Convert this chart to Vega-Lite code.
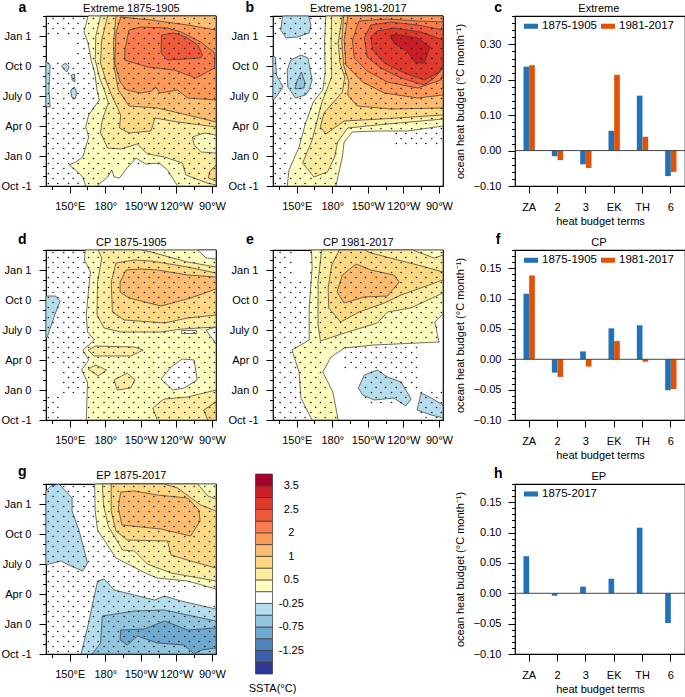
{"$schema":"https://vega.github.io/schema/vega-lite/v6.json","background":"white","padding":{"left":0,"top":0,"right":0,"bottom":0},"bounds":"flush","spacing":{"row":64,"column":0},"columns":5,"resolve":{"scale":{"fill":"independent"},"legend":{"fill":"independent"}},
"config":{"font":"Liberation Sans","view":{"stroke":"#000","strokeWidth":1.2},"axis":{"grid":false,"domain":false,"tickColor":"#000","labelColor":"#000","titleColor":"#000","labelFontSize":11,"titleFontSize":11,"titleFontWeight":"normal","labelBound":false,"labelFlush":false,"zindex":1},"legend":{"labelFontSize":11.5,"labelColor":"#000"}},
"datasets":{
"poly":[
{"p":"a","k":1,"c":"0.25","x":[165.5,162,165.5,168,171,173,175,166,163.5,166,163.5,161,155,149.5,155,161,163.5,173,182,185.5,187.5,192,197,206,214,225.5,232.5,241,273.4,273.4],"y":[17,15.4,14.3,12.6,11.4,9.6,8.6,7.1,5.9,4.9,3.9,2.9,2.4,2.1,1.6,0.9,0,0,0.9,1.6,0.9,0.8,1.6,2.8,2.2,2.3,1.6,0,0,17]},
{"p":"a","k":2,"c":"0.5","x":[176,172,171.5,175,180,182.5,177.5,176,182,193,207,215.5,230,245,248,266,273.4,273.4],"y":[17,15,12.6,10.9,9.3,8.3,6.6,5.3,3.8,3.7,4.2,3.2,2.9,2.3,1.1,0.3,0.1,17]},
{"p":"a","k":3,"c":"0.75","x":[182,177,176,181,186,190,193,192,200,218.5,222,241,261,273.4,273.4],"y":[17,14.6,12.3,10.4,8.9,7.9,7.1,5.8,5.3,5.5,6.8,6.4,6.1,5.9,17]},
{"p":"a","k":4,"c":"1","x":[189,187,187.5,191,200,224,249.5,273.4,273.4],"y":[17,14.3,11.9,9.6,8,7.8,7.1,6.4,17]},
{"p":"a","k":5,"c":"1.5","x":[193,189,188,192.5,198,210,219,222.5,226,241,249.5,273.4,273.4,249.5,218.5],"y":[16.9,15.3,12.3,10.4,9.6,9.3,9.5,9.9,9.3,9.6,8.8,8.6,15.6,16.1,16.6]},
{"p":"a","k":6,"c":"2","x":[200,196.5,196.5,215.5,238,256.5,272,272.5,260.5,244,232.5,210],"y":[15.6,13.6,12.6,11.9,11.6,10.8,11.8,13.3,14.4,15.4,15.8,15.9]},
{"p":"a","k":7,"c":"2.25","x":[227.5,227,232.5,260.5,262,258,248,238],"y":[15.1,13.3,12.6,12.8,13.1,14.1,14.9,15.3]},
{"p":"a","k":8,"c":"0.25","x":[253.5,263.5,273.4,273.4,261,255],"y":[4.9,5.3,5.1,3.3,3.4,4.1]},
{"p":"a","k":9,"c":"0.75","x":[273.4,268,267,273.4],"y":[2.1,1.4,0.8,0.5]},
{"p":"a","k":10,"c":"-0.5","x":[130,133.5,132.5,133.5,130],"y":[12.5,12.1,9.6,7.9,7.9]},
{"p":"a","k":11,"c":"-0.5","x":[143,146.5,149.5,147.5],"y":[12,12.3,11.9,11.4]},
{"p":"a","k":12,"c":"-0.5","x":[151.5,154,154.5,152],"y":[11.1,11.2,10.4,10.6]},
{"p":"a","k":13,"c":"-0.5","x":[151,154,156,154.5,151.5],"y":[9.6,9.9,9.3,8.7,8.9]},
{"p":"b","k":20,"c":"0.25","x":[174.5,173.5,174,172,164,157.5,152,143.5,142,183,188.5,190,197,218,243.5,273.4,273.4],"y":[17,14.3,11.3,9.6,8.4,6.3,3.9,1.6,0,0,2.9,4.4,5.4,5.5,5.5,6,17]},
{"p":"b","k":21,"c":"0.5","x":[179.5,179,179.5,171,163,155,164.5,176,182,184.5,193,218,273.4,273.4],"y":[17,14.3,10.9,8.3,4.6,2.3,0.9,1.4,2.9,4.4,5.8,6.1,6.7,17]},
{"p":"b","k":22,"c":"0.75","x":[188.5,185,186.5,190.5,188.5,173,170,174.5,190,221,273.4,273.4],"y":[17,14.3,12.3,10.9,9.4,7.3,5.9,5.2,6.5,6.7,7.1,17]},
{"p":"b","k":23,"c":"1","x":[189.5,188,189.5,194,193,201,229.5,273.4,273.4],"y":[17,14.3,12.1,10.4,9.1,8,7.7,7.8,17]},
{"p":"b","k":24,"c":"1.5","x":[193,193,190,191.5,205.5,224,252,273.4,273.4],"y":[17,16.8,14.6,12.1,10.4,9.3,8.8,9.1,17]},
{"p":"b","k":25,"c":"2","x":[202.5,197,198.5,209.5,226.5,252,271.5,273.4,273.4,252,226.5],"y":[16.5,14.6,12.8,11.5,10.4,9.8,10.6,11.1,16.4,16.5,16.7]},
{"p":"b","k":26,"c":"2.25","x":[212.5,207,209.5,221,238,257.5,266,273.4,273.4,252,229.5],"y":[16.1,14.8,12.9,11.8,10.8,10.1,10.8,11.8,15.6,16.1,16.4]},
{"p":"b","k":27,"c":"2.5","x":[218,212.5,214,224,241,257.5,270.5,273.4,273.4,255,232],"y":[15.5,14.9,13.6,12.3,11.3,10.6,11.4,12.1,14.6,15.4,15.8]},
{"p":"b","k":28,"c":"3","x":[229,232,243.5,250.5,257.5,262.5,252,238],"y":[15.1,14.3,13.4,12.3,12.3,13.9,14.8,15.1]},
{"p":"b","k":29,"c":"-0.5","x":[138,136.5,141,150.5,160.5,162,160],"y":[17,15.6,14.8,14.9,15.3,16.1,17]},
{"p":"b","k":30,"c":"-0.5","x":[130,132,133,138.5,132,130],"y":[13,12.9,11.1,9.9,8.8,8.6]},
{"p":"b","k":31,"c":"-0.5","x":[153.5,159.5,163,160.5,157.5,149,142.5,142,145],"y":[13.1,12.8,10.6,9.6,9.1,8.8,9.9,11.6,12.6]},
{"p":"b","k":32,"c":"-0.75","x":[154,157,156,148.5,150.5],"y":[11.4,10.3,9.8,9.7,10.6]},
{"p":"d","k":40,"c":"0.25","x":[163,162.5,167.5,165.5,164,165,171,161,166,160,165,164,273.4,273.4,265,273.4,273.4],"y":[17,16,14.8,12.5,10.5,8.8,8,7,6,5,3.8,0,0,7.6,9,9.3,17]},
{"p":"d","k":41,"c":"-0.25","x":[227,235.5,245,255,257.5,246.5,237],"y":[4.1,5.3,6.1,6,4,3.2,3]},
{"p":"d","k":42,"c":"-0.25","x":[258,265,273.4,273.4],"y":[17,16.2,16.1,17]},
{"p":"d","k":43,"c":"0.5","x":[174,177,173.5,173,179,193,227,245,273.4,273.4,249.5,218.5,210],"y":[17,16.2,13.8,10.5,9.2,8.8,8.8,9.1,9.3,15.3,15.8,16.8,17]},
{"p":"d","k":44,"c":"-0.25","x":[244.5,257,257,244.5],"y":[8.95,8.95,8.65,8.65]},
{"p":"d","k":45,"c":"0.75","x":[204.5,189,185,186,196,230,249.5,273.4,273.4,249.5,218.5],"y":[16,15.7,13.8,10.8,10,9.7,10.2,10.5,14.7,15.3,15.9]},
{"p":"d","k":46,"c":"1","x":[197.5,192.5,192.5,200,227,252,273.4,273.4,249.5,224,210],"y":[15,13.8,12.8,12.2,11.4,12.2,13.1,14.3,14.5,15,15.1]},
{"p":"d","k":47,"c":"0.5","x":[165.5,172,204.5,212,201.5,170.5],"y":[7,7.4,7.3,7,6.4,6.4]},
{"p":"d","k":48,"c":"0.5","x":[165.5,172,181,174],"y":[5.1,5.5,5,4.4]},
{"p":"d","k":49,"c":"0.5","x":[187.5,198.5,205,201.5,190],"y":[4,4.7,4,3.2,3]},
{"p":"d","k":50,"c":"0.5","x":[220,229.5,249.5,273.4,273.4,224],"y":[1.2,2.1,2.3,3,0,0]},
{"p":"d","k":51,"c":"0.75","x":[263,273.4,273.4,266.5],"y":[1,1.8,0,0]},
{"p":"d","k":52,"c":"-0.5","x":[130,138,142,138,131,130],"y":[12.4,12.4,11.9,10.7,8.3,8.2]},
{"p":"e","k":60,"c":"0.25","x":[162.5,163,160.5,160.5,160.5,146,152,153.5,163,185,180.5,172,179,190,215,270,266.5,273.4,273.4],"y":[17,15.2,11.2,9.5,8,7,4.8,2.2,0,0,2.8,4.8,6.3,7.2,7.5,7.8,9.8,10.6,17]},
{"p":"e","k":61,"c":"0.5","x":[171,168,168,170,193,218,226.5,246,273.4,273.4,266,252,248],"y":[17,13.8,9.5,7.9,8.8,9.7,10.8,11.2,12.7,16.5,16.2,16.8,17]},
{"p":"e","k":62,"c":"0.75","x":[186,179.5,176.5,177,187,202.5,224,238,273.4,273.4,252,212.5,207],"y":[17,15.5,13.2,11.2,9.8,10.8,11.7,12.5,14,14.8,15.5,16.7,17]},
{"p":"e","k":63,"c":"1","x":[200,188.5,184,190,207,226.5,236.5,232,212.5],"y":[15.6,14.5,12.8,11.7,12.3,12.4,13.8,14.5,15]},
{"p":"e","k":64,"c":"-0.5","x":[218,226.5,238,246.5,242,232,215.5,205.5,202,207],"y":[5,4.3,3.8,2.1,1.4,2.2,2,2.5,3.2,4.5]},
{"p":"e","k":65,"c":"-0.5","x":[255,263.5,273.4,273.4,263.5,251.5],"y":[2.7,2.2,1.5,0.2,0.5,1]},
{"p":"g","k":70,"c":"0.25","x":[171,171.5,173.5,189,215.5,224,249.5,273.4,273.4],"y":[17,14.3,12.4,9.6,8,7.6,7.3,6.5,17]},
{"p":"g","k":71,"c":"0.5","x":[177.5,178.5,182.5,194.5,204.5,215.5,235.5,273.4,273.4,266.5,258],"y":[17,14.9,12.8,10.4,10.3,9,8.1,7.3,15.5,15.8,17]},
{"p":"g","k":72,"c":"0.75","x":[185,185,189,198.5,232.5,235.5,252,273.4,273.4,260.5,241,229.5],"y":[17,14.3,12.3,11.4,11.3,9.9,9.3,8.6,14.3,14.9,16.6,17]},
{"p":"g","k":73,"c":"1","x":[193,191,194,227,252,260,259,249.5,224,204.5],"y":[16.2,14.6,12.9,12.5,11.8,13.3,14.4,15.6,15.9,16.3]},
{"p":"g","k":74,"c":"-0.5","x":[130,134,141,152,152,158,165,161,151,142.5,130],"y":[16.3,16.8,17,15.6,14.3,12.3,9.1,8.3,8.8,9.3,8.9]},
{"p":"g","k":75,"c":"-0.5","x":[159.5,165.5,173.5,179,187.5,204.5,221.5,230,244,273.4,273.4],"y":[0,2.9,7.3,7.5,6.4,5.9,5.4,5.8,5.3,4.5,0]},
{"p":"g","k":76,"c":"-0.75","x":[169,176,177.5,204.5,230,249.5,273.4,273.4],"y":[0,1.1,3.8,4.3,4.4,3.9,3.3,0]},
{"p":"g","k":77,"c":"-1","x":[193,192.5,198.5,207,224,246.5,255,261,273.4,273.4,249.5,230,213],"y":[2.4,1.4,0.9,1.8,1.1,0.9,0,0.4,0.6,2.6,2.4,3.3,2.5]}
],
"stip":[
{"y":0.25,"x":[132,140,149,157,166,174,183,191,200,208,217,225,234,242,251,259,268]},{"y":0.75,"x":[136,145,153,162,170,179,187,196,204,213,221,230,238,247,255,264,272]},
{"y":1.25,"x":[132,140,149,157,166,174,183,191,200,208,217,225,234,242,251,259,268]},{"y":1.75,"x":[136,145,153,162,170,179,187,196,204,213,221,230,238,247,255,264,272]},
{"y":2.25,"x":[132,140,149,157,166,174,183,191,200,208,217,225,234,242,251,259,268]},{"y":2.75,"x":[136,145,153,162,170,179,187,196,204,213,221,230,238,247,255,264,272]},
{"y":3.25,"x":[132,140,149,157,166,174,183,191,200,208,217,225,234,242,251,259,268]},{"y":3.75,"x":[136,145,153,162,170,179,187,196,204,213,221,230,238,247,255,264,272]},
{"y":4.25,"x":[132,140,149,157,166,174,183,191,200,208,217,225,234,242,251,259,268]},{"y":4.75,"x":[136,145,153,162,170,179,187,196,204,213,221,230,238,247,255,264,272]},
{"y":5.25,"x":[132,140,149,157,166,174,183,191,200,208,217,225,234,242,251,259,268]},{"y":5.75,"x":[136,145,153,162,170,179,187,196,204,213,221,230,238,247,255,264,272]},
{"y":6.25,"x":[132,140,149,157,166,174,183,191,200,208,217,225,234,242,251,259,268]},{"y":6.75,"x":[136,145,153,162,170,179,187,196,204,213,221,230,238,247,255,264,272]},
{"y":7.25,"x":[132,140,149,157,166,174,183,191,200,208,217,225,234,242,251,259,268]},{"y":7.75,"x":[136,145,153,162,170,179,187,196,204,213,221,230,238,247,255,264,272]},
{"y":8.25,"x":[132,140,149,157,166,174,183,191,200,208,217,225,234,242,251,259,268]},{"y":8.75,"x":[136,145,153,162,170,179,187,196,204,213,221,230,238,247,255,264,272]},
{"y":9.25,"x":[132,140,149,157,166,174,183,191,200,208,217,225,234,242,251,259,268]},{"y":9.75,"x":[136,145,153,162,170,179,187,196,204,213,221,230,238,247,255,264,272]},
{"y":10.25,"x":[132,140,149,157,166,174,183,191,200,208,217,225,234,242,251,259,268]},{"y":10.75,"x":[136,145,153,162,170,179,187,196,204,213,221,230,238,247,255,264,272]},
{"y":11.25,"x":[132,140,149,157,166,174,183,191,200,208,217,225,234,242,251,259,268]},{"y":11.75,"x":[136,145,153,162,170,179,187,196,204,213,221,230,238,247,255,264,272]},
{"y":12.25,"x":[132,140,149,157,166,174,183,191,200,208,217,225,234,242,251,259,268]},{"y":12.75,"x":[136,145,153,162,170,179,187,196,204,213,221,230,238,247,255,264,272]},
{"y":13.25,"x":[132,140,149,157,166,174,183,191,200,208,217,225,234,242,251,259,268]},{"y":13.75,"x":[136,145,153,162,170,179,187,196,204,213,221,230,238,247,255,264,272]},
{"y":14.25,"x":[132,140,149,157,166,174,183,191,200,208,217,225,234,242,251,259,268]},{"y":14.75,"x":[136,145,153,162,170,179,187,196,204,213,221,230,238,247,255,264,272]},
{"y":15.25,"x":[132,140,149,157,166,174,183,191,200,208,217,225,234,242,251,259,268]},{"y":15.75,"x":[136,145,153,162,170,179,187,196,204,213,221,230,238,247,255,264,272]},
{"y":16.25,"x":[132,140,149,157,166,174,183,191,200,208,217,225,234,242,251,259,268]},{"y":16.75,"x":[136,145,153,162,170,179,187,196,204,213,221,230,238,247,255,264,272]}
],
"cbar":[{"u":0,"v":1,"c":"-1.75"},{"u":1,"v":2,"c":"-1.5"},{"u":2,"v":3,"c":"-1.25"},{"u":3,"v":4,"c":"-1"},{"u":4,"v":5,"c":"-0.75"},{"u":5,"v":6,"c":"-0.5"},{"u":6,"v":7,"c":"-0.25"},{"u":7,"v":8,"c":"0.25"},{"u":8,"v":9,"c":"0.5"},{"u":9,"v":10,"c":"0.75"},{"u":10,"v":11,"c":"1"},{"u":11,"v":12,"c":"1.5"},{"u":12,"v":13,"c":"2"},{"u":13,"v":14,"c":"2.25"},{"u":14,"v":15,"c":"2.5"},{"u":15,"v":16,"c":"3"},{"u":16,"v":17,"c":"3.5"}],
"bars":[
{"p":"c","t":"ZA","s":"a","n":"1875-1905","v":0.237},{"p":"c","t":"ZA","s":"b","n":"1981-2017","v":0.241},{"p":"c","t":"2","s":"a","n":"1875-1905","v":-0.016},{"p":"c","t":"2","s":"b","n":"1981-2017","v":-0.027},{"p":"c","t":"3","s":"a","n":"1875-1905","v":-0.039},{"p":"c","t":"3","s":"b","n":"1981-2017","v":-0.049},{"p":"c","t":"EK","s":"a","n":"1875-1905","v":0.056},{"p":"c","t":"EK","s":"b","n":"1981-2017","v":0.214},{"p":"c","t":"TH","s":"a","n":"1875-1905","v":0.155},{"p":"c","t":"TH","s":"b","n":"1981-2017","v":0.039},{"p":"c","t":"6","s":"a","n":"1875-1905","v":-0.072},{"p":"c","t":"6","s":"b","n":"1981-2017","v":-0.06},
{"p":"f","t":"ZA","s":"a","n":"1875-1905","v":0.108},{"p":"f","t":"ZA","s":"b","n":"1981-2017","v":0.138},{"p":"f","t":"2","s":"a","n":"1875-1905","v":-0.022},{"p":"f","t":"2","s":"b","n":"1981-2017","v":-0.029},{"p":"f","t":"3","s":"a","n":"1875-1905","v":0.013},{"p":"f","t":"3","s":"b","n":"1981-2017","v":-0.012},{"p":"f","t":"EK","s":"a","n":"1875-1905","v":0.051},{"p":"f","t":"EK","s":"b","n":"1981-2017","v":0.03},{"p":"f","t":"TH","s":"a","n":"1875-1905","v":0.056},{"p":"f","t":"TH","s":"b","n":"1981-2017","v":-0.004},{"p":"f","t":"6","s":"a","n":"1875-1905","v":-0.051},{"p":"f","t":"6","s":"b","n":"1981-2017","v":-0.049},
{"p":"h","t":"ZA","s":"a","n":"1875-2017","v":0.061},{"p":"h","t":"2","s":"a","n":"1875-2017","v":-0.004},{"p":"h","t":"3","s":"a","n":"1875-2017","v":0.011},{"p":"h","t":"EK","s":"a","n":"1875-2017","v":0.024},{"p":"h","t":"TH","s":"a","n":"1875-2017","v":0.108},{"p":"h","t":"6","s":"a","n":"1875-2017","v":-0.049}
]},
"concat":[
{"width":170,"height":170,"layer":[
{"data":{"name":"poly"},"transform":[{"filter":"datum.p=='a'"},{"flatten":["x","y"]},{"window":[{"op":"row_number","as":"i"}],"groupby":["k"]}],"mark":{"type":"line","stroke":"#333","strokeWidth":0.7,"interpolate":"linear-closed"},"encoding":{"x":{"field":"x","type":"quantitative","scale":{"domain":[130,273.4],"nice":false,"zero":false},"axis":{"title":null,"tickCount":40,"values":[135,150,165,180,195,210,225,240,255,270],"labelOverlap":false,"labelPadding":7,"labelExpr":"datum.value==150?'150°E':datum.value==180?'180°':datum.value==210?'150°W':datum.value==240?'120°W':datum.value==270?'90°W':''","tickSize":{"condition":{"test":"datum.value%30==0","value":7},"value":3.5}}},"y":{"field":"y","type":"quantitative","scale":{"domain":[0,17],"nice":false,"zero":false},"axis":{"title":null,"tickCount":40,"values":[0,1,2,3,4,5,6,7,8,9,10,11,12,13,14,15,16,17],"labelOverlap":false,"labelPadding":8,"labelExpr":"datum.value==0?'Oct -1':datum.value==3?'Jan 0':datum.value==6?'Apr 0':datum.value==9?'July 0':datum.value==12?'Oct 0':datum.value==15?'Jan 1':''","tickSize":{"condition":{"test":"datum.value%3==0","value":7},"value":3.5}}},"fill":{"field":"c","type":"nominal","legend":null,"scale":{"domain":["-1.75","-1.5","-1.25","-1","-0.75","-0.5","-0.25","0.25","0.5","0.75","1","1.5","2","2.25","2.5","3","3.5"],"range":["#30389a","#3b60a9","#5085be","#6fa9cf","#92c5de","#b5dded","#ffffff","#ffffbf","#feeda0","#fed882","#fdbc6f","#fd9a57","#fb7c4c","#ee5a3b","#e03a2e","#c91e27","#a8002c"]}},"detail":{"field":"k"},"order":{"field":"i","type":"quantitative"}}},
{"data":{"name":"stip"},"transform":[{"flatten":["x"]},{"filter":"!(datum.x<155&&datum.y>12.7&&datum.y<14.8)&&!(datum.x>175&&datum.x<240&&datum.y<1)&&!(datum.x>185&&datum.x<232&&datum.y<2.1)"}],"mark":{"type":"point","filled":true,"size":2.5,"color":"#111","opacity":1},"encoding":{"x":{"field":"x","type":"quantitative"},"y":{"field":"y","type":"quantitative"}}},
{"data":{"values":[{"l":"a","x":110,"y":17.8}]},"mark":{"type":"text","fontSize":14,"fontWeight":"bold","color":"#000"},"encoding":{"x":{"field":"x","type":"quantitative"},"y":{"field":"y","type":"quantitative"},"text":{"field":"l"}}},
{"data":{"values":[{"l":"Extreme 1875-1905","x":202,"y":17.73}]},"mark":{"type":"text","fontSize":11,"color":"#000"},"encoding":{"x":{"field":"x","type":"quantitative"},"y":{"field":"y","type":"quantitative"},"text":{"field":"l"}}}
]},
{"width":56.8,"height":170,"view":{"stroke":null},"data":{"values":[{"e":0}]},"mark":{"type":"point","opacity":0},"encoding":{}},
{"width":170,"height":170,"layer":[
{"data":{"name":"poly"},"transform":[{"filter":"datum.p=='b'"},{"flatten":["x","y"]},{"window":[{"op":"row_number","as":"i"}],"groupby":["k"]}],"mark":{"type":"line","stroke":"#333","strokeWidth":0.7,"interpolate":"linear-closed"},"encoding":{"x":{"field":"x","type":"quantitative","scale":{"domain":[130,273.4],"nice":false,"zero":false},"axis":{"title":null,"tickCount":40,"values":[135,150,165,180,195,210,225,240,255,270],"labelOverlap":false,"labelPadding":7,"labelExpr":"datum.value==150?'150°E':datum.value==180?'180°':datum.value==210?'150°W':datum.value==240?'120°W':datum.value==270?'90°W':''","tickSize":{"condition":{"test":"datum.value%30==0","value":7},"value":3.5}}},"y":{"field":"y","type":"quantitative","scale":{"domain":[0,17],"nice":false,"zero":false},"axis":{"title":null,"tickCount":40,"values":[0,1,2,3,4,5,6,7,8,9,10,11,12,13,14,15,16,17],"labelOverlap":false,"labelPadding":8,"labelExpr":"datum.value==0?'Oct -1':datum.value==3?'Jan 0':datum.value==6?'Apr 0':datum.value==9?'July 0':datum.value==12?'Oct 0':datum.value==15?'Jan 1':''","tickSize":{"condition":{"test":"datum.value%3==0","value":7},"value":3.5}}},"fill":{"field":"c","type":"nominal","legend":null,"scale":{"domain":["-1.75","-1.5","-1.25","-1","-0.75","-0.5","-0.25","0.25","0.5","0.75","1","1.5","2","2.25","2.5","3","3.5"],"range":["#30389a","#3b60a9","#5085be","#6fa9cf","#92c5de","#b5dded","#ffffff","#ffffbf","#feeda0","#fed882","#fdbc6f","#fd9a57","#fb7c4c","#ee5a3b","#e03a2e","#c91e27","#a8002c"]}},"detail":{"field":"k"},"order":{"field":"i","type":"quantitative"}}},
{"data":{"name":"stip"},"transform":[{"flatten":["x"]},{"filter":"!(datum.x<150&&datum.y>13&&datum.y<15)&&!(datum.x>186&&datum.y<5.3&&!(datum.x>232&&datum.y>3.9))&&!(datum.x>143&&datum.x<150&&datum.y>1.6&&datum.y<4.5)"}],"mark":{"type":"point","filled":true,"size":2.5,"color":"#111","opacity":1},"encoding":{"x":{"field":"x","type":"quantitative"},"y":{"field":"y","type":"quantitative"}}},
{"data":{"values":[{"l":"b","x":110.5,"y":17.8}]},"mark":{"type":"text","fontSize":14,"fontWeight":"bold","color":"#000"},"encoding":{"x":{"field":"x","type":"quantitative"},"y":{"field":"y","type":"quantitative"},"text":{"field":"l"}}},
{"data":{"values":[{"l":"Extreme 1981-2017","x":202,"y":17.73}]},"mark":{"type":"text","fontSize":11,"color":"#000"},"encoding":{"x":{"field":"x","type":"quantitative"},"y":{"field":"y","type":"quantitative"},"text":{"field":"l"}}}
]},
{"width":71.7,"height":170,"view":{"stroke":null},"data":{"values":[{"e":0}]},"mark":{"type":"point","opacity":0},"encoding":{}},
{"width":170,"height":170,"layer":[
{"data":{"name":"bars"},"transform":[{"filter":"datum.p=='c'"}],"mark":{"type":"bar"},"encoding":{"x":{"field":"t","type":"nominal","sort":null,"scale":{"domain":["ZA","2","3","EK","TH","6"],"paddingInner":0.6,"paddingOuter":0.3},"axis":{"title":"heat budget terms","labelAngle":0,"labelOverlap":false,"labelPadding":8,"tickSize":7,"titlePadding":3}},"xOffset":{"field":"s","type":"nominal","scale":{"domain":["a","b"],"paddingInner":0,"paddingOuter":0}},"y":{"field":"v","type":"quantitative","scale":{"domain":[-0.1,0.38],"nice":false,"zero":false},"axis":{"title":"ocean heat budget (°C month⁻¹)","tickCount":40,"titlePadding":8,"labelOverlap":false,"labelPadding":7,"values":[-0.1,-0.08,-0.06,-0.04,-0.02,0,0.02,0.04,0.06,0.08,0.1,0.12,0.14,0.16,0.18,0.2,0.22,0.24,0.26,0.28,0.3,0.32,0.34,0.36,0.38],"labelExpr":"abs(datum.value*10-round(datum.value*10))<0.001?format(datum.value,'.2f'):''","tickSize":{"condition":{"test":"abs(datum.value*10-round(datum.value*10))<0.001","value":7},"value":3.5}}},"fill":{"field":"n","type":"nominal","scale":{"domain":["1875-1905","1981-2017"],"range":["#2272b8","#e05206"]},"legend":{"title":null,"orient":"none","legendX":9,"legendY":3,"direction":"horizontal","symbolType":"M-1,-0.36H1V0.36H-1Z","symbolSize":196,"symbolStrokeWidth":0,"labelOffset":4,"columnPadding":4}}}},
{"data":{"values":[{"z":0}]},"mark":{"type":"rule","color":"#444","strokeWidth":1},"encoding":{"y":{"field":"z","type":"quantitative"}}},
{"data":{"values":[{"l":"c","x":"ZA","y":0.402}]},"mark":{"type":"text","fontSize":14,"fontWeight":"bold","color":"#000","xOffset":-31},"encoding":{"x":{"field":"x","type":"nominal"},"y":{"field":"y","type":"quantitative"},"text":{"field":"l"}}},
{"data":{"values":[{"l":"Extreme","x":"3","y":0.401}]},"mark":{"type":"text","fontSize":11,"color":"#000","xOffset":13},"encoding":{"x":{"field":"x","type":"nominal"},"y":{"field":"y","type":"quantitative"},"text":{"field":"l"}}}
]},
{"width":170,"height":170,"layer":[
{"data":{"name":"poly"},"transform":[{"filter":"datum.p=='d'"},{"flatten":["x","y"]},{"window":[{"op":"row_number","as":"i"}],"groupby":["k"]}],"mark":{"type":"line","stroke":"#333","strokeWidth":0.7,"interpolate":"linear-closed"},"encoding":{"x":{"field":"x","type":"quantitative","scale":{"domain":[130,273.4],"nice":false,"zero":false},"axis":{"title":null,"tickCount":40,"values":[135,150,165,180,195,210,225,240,255,270],"labelOverlap":false,"labelPadding":7,"labelExpr":"datum.value==150?'150°E':datum.value==180?'180°':datum.value==210?'150°W':datum.value==240?'120°W':datum.value==270?'90°W':''","tickSize":{"condition":{"test":"datum.value%30==0","value":7},"value":3.5}}},"y":{"field":"y","type":"quantitative","scale":{"domain":[0,17],"nice":false,"zero":false},"axis":{"title":null,"tickCount":40,"values":[0,1,2,3,4,5,6,7,8,9,10,11,12,13,14,15,16,17],"labelOverlap":false,"labelPadding":8,"labelExpr":"datum.value==0?'Oct -1':datum.value==3?'Jan 0':datum.value==6?'Apr 0':datum.value==9?'July 0':datum.value==12?'Oct 0':datum.value==15?'Jan 1':''","tickSize":{"condition":{"test":"datum.value%3==0","value":7},"value":3.5}}},"fill":{"field":"c","type":"nominal","legend":null,"scale":{"domain":["-1.75","-1.5","-1.25","-1","-0.75","-0.5","-0.25","0.25","0.5","0.75","1","1.5","2","2.25","2.5","3","3.5"],"range":["#30389a","#3b60a9","#5085be","#6fa9cf","#92c5de","#b5dded","#ffffff","#ffffbf","#feeda0","#fed882","#fdbc6f","#fd9a57","#fb7c4c","#ee5a3b","#e03a2e","#c91e27","#a8002c"]}},"detail":{"field":"k"},"order":{"field":"i","type":"quantitative"}}},
{"data":{"name":"stip"},"transform":[{"flatten":["x"]},{"filter":"!(datum.x<145&&datum.y>2.6&&datum.y<5.5)&&!(datum.x>140&&datum.x<163&&datum.y<2.6)&&!(datum.x>258&&datum.y>16.2)"}],"mark":{"type":"point","filled":true,"size":2.5,"color":"#111","opacity":1},"encoding":{"x":{"field":"x","type":"quantitative"},"y":{"field":"y","type":"quantitative"}}},
{"data":{"values":[{"l":"d","x":110,"y":18}]},"mark":{"type":"text","fontSize":14,"fontWeight":"bold","color":"#000"},"encoding":{"x":{"field":"x","type":"quantitative"},"y":{"field":"y","type":"quantitative"},"text":{"field":"l"}}},
{"data":{"values":[{"l":"CP 1875-1905","x":202,"y":17.75}]},"mark":{"type":"text","fontSize":11,"color":"#000"},"encoding":{"x":{"field":"x","type":"quantitative"},"y":{"field":"y","type":"quantitative"},"text":{"field":"l"}}}
]},
{"width":56.8,"height":170,"view":{"stroke":null},"data":{"values":[{"e":0}]},"mark":{"type":"point","opacity":0},"encoding":{}},
{"width":170,"height":170,"layer":[
{"data":{"name":"poly"},"transform":[{"filter":"datum.p=='e'"},{"flatten":["x","y"]},{"window":[{"op":"row_number","as":"i"}],"groupby":["k"]}],"mark":{"type":"line","stroke":"#333","strokeWidth":0.7,"interpolate":"linear-closed"},"encoding":{"x":{"field":"x","type":"quantitative","scale":{"domain":[130,273.4],"nice":false,"zero":false},"axis":{"title":null,"tickCount":40,"values":[135,150,165,180,195,210,225,240,255,270],"labelOverlap":false,"labelPadding":7,"labelExpr":"datum.value==150?'150°E':datum.value==180?'180°':datum.value==210?'150°W':datum.value==240?'120°W':datum.value==270?'90°W':''","tickSize":{"condition":{"test":"datum.value%30==0","value":7},"value":3.5}}},"y":{"field":"y","type":"quantitative","scale":{"domain":[0,17],"nice":false,"zero":false},"axis":{"title":null,"tickCount":40,"values":[0,1,2,3,4,5,6,7,8,9,10,11,12,13,14,15,16,17],"labelOverlap":false,"labelPadding":8,"labelExpr":"datum.value==0?'Oct -1':datum.value==3?'Jan 0':datum.value==6?'Apr 0':datum.value==9?'July 0':datum.value==12?'Oct 0':datum.value==15?'Jan 1':''","tickSize":{"condition":{"test":"datum.value%3==0","value":7},"value":3.5}}},"fill":{"field":"c","type":"nominal","legend":null,"scale":{"domain":["-1.75","-1.5","-1.25","-1","-0.75","-0.5","-0.25","0.25","0.5","0.75","1","1.5","2","2.25","2.5","3","3.5"],"range":["#30389a","#3b60a9","#5085be","#6fa9cf","#92c5de","#b5dded","#ffffff","#ffffbf","#feeda0","#fed882","#fdbc6f","#fd9a57","#fb7c4c","#ee5a3b","#e03a2e","#c91e27","#a8002c"]}},"detail":{"field":"k"},"order":{"field":"i","type":"quantitative"}}},
{"data":{"name":"stip"},"transform":[{"flatten":["x"]},{"filter":"!(datum.x>147&&datum.x<162&&datum.y>14)&&!(datum.x>185-datum.y*2.7&&datum.x<205&&datum.y<5.2)&&!(datum.x>172&&datum.x<190&&datum.y>=5.2&&datum.y<7)&&!(datum.x>=205&&datum.x<252&&datum.y<1.4)&&!(datum.x>=246&&datum.x<252&&datum.y<3)&&!(datum.x>252&&datum.y>3.2&&datum.y<7.8)&&!(datum.x>268&&datum.y>=7.8&&datum.y<10.5)"}],"mark":{"type":"point","filled":true,"size":2.5,"color":"#111","opacity":1},"encoding":{"x":{"field":"x","type":"quantitative"},"y":{"field":"y","type":"quantitative"}}},
{"data":{"values":[{"l":"e","x":110.5,"y":18}]},"mark":{"type":"text","fontSize":14,"fontWeight":"bold","color":"#000"},"encoding":{"x":{"field":"x","type":"quantitative"},"y":{"field":"y","type":"quantitative"},"text":{"field":"l"}}},
{"data":{"values":[{"l":"CP 1981-2017","x":202,"y":17.75}]},"mark":{"type":"text","fontSize":11,"color":"#000"},"encoding":{"x":{"field":"x","type":"quantitative"},"y":{"field":"y","type":"quantitative"},"text":{"field":"l"}}}
]},
{"width":71.7,"height":170,"view":{"stroke":null},"data":{"values":[{"e":0}]},"mark":{"type":"point","opacity":0},"encoding":{}},
{"width":170,"height":170,"layer":[
{"data":{"name":"bars"},"transform":[{"filter":"datum.p=='f'"}],"mark":{"type":"bar"},"encoding":{"x":{"field":"t","type":"nominal","sort":null,"scale":{"domain":["ZA","2","3","EK","TH","6"],"paddingInner":0.6,"paddingOuter":0.3},"axis":{"title":"heat budget terms","labelAngle":0,"labelOverlap":false,"labelPadding":8,"tickSize":7,"titlePadding":3}},"xOffset":{"field":"s","type":"nominal","scale":{"domain":["a","b"],"paddingInner":0,"paddingOuter":0}},"y":{"field":"v","type":"quantitative","scale":{"domain":[-0.1,0.18],"nice":false,"zero":false},"axis":{"title":"ocean heat budget (°C month⁻¹)","tickCount":40,"titlePadding":8,"labelOverlap":false,"labelPadding":7,"values":[-0.1,-0.09,-0.08,-0.07,-0.06,-0.05,-0.04,-0.03,-0.02,-0.01,0,0.01,0.02,0.03,0.04,0.05,0.06,0.07,0.08,0.09,0.1,0.11,0.12,0.13,0.14,0.15,0.16,0.17,0.18],"labelExpr":"abs(datum.value*20-round(datum.value*20))<0.001?format(datum.value,'.2f'):''","tickSize":{"condition":{"test":"abs(datum.value*20-round(datum.value*20))<0.001","value":7},"value":3.5}}},"fill":{"field":"n","type":"nominal","scale":{"domain":["1875-1905","1981-2017"],"range":["#2272b8","#e05206"]},"legend":{"title":null,"orient":"none","legendX":9,"legendY":3,"direction":"horizontal","symbolType":"M-1,-0.36H1V0.36H-1Z","symbolSize":196,"symbolStrokeWidth":0,"labelOffset":4,"columnPadding":4}}}},
{"data":{"values":[{"z":0}]},"mark":{"type":"rule","color":"#444","strokeWidth":1},"encoding":{"y":{"field":"z","type":"quantitative"}}},
{"data":{"values":[{"l":"f","x":"ZA","y":0.196}]},"mark":{"type":"text","fontSize":14,"fontWeight":"bold","color":"#000","xOffset":-31},"encoding":{"x":{"field":"x","type":"nominal"},"y":{"field":"y","type":"quantitative"},"text":{"field":"l"}}},
{"data":{"values":[{"l":"CP","x":"3","y":0.192}]},"mark":{"type":"text","fontSize":11,"color":"#000","xOffset":13},"encoding":{"x":{"field":"x","type":"nominal"},"y":{"field":"y","type":"quantitative"},"text":{"field":"l"}}}
]},
{"width":170,"height":170,"layer":[
{"data":{"name":"poly"},"transform":[{"filter":"datum.p=='g'"},{"flatten":["x","y"]},{"window":[{"op":"row_number","as":"i"}],"groupby":["k"]}],"mark":{"type":"line","stroke":"#333","strokeWidth":0.7,"interpolate":"linear-closed"},"encoding":{"x":{"field":"x","type":"quantitative","scale":{"domain":[130,273.4],"nice":false,"zero":false},"axis":{"title":null,"tickCount":40,"values":[135,150,165,180,195,210,225,240,255,270],"labelOverlap":false,"labelPadding":7,"labelExpr":"datum.value==150?'150°E':datum.value==180?'180°':datum.value==210?'150°W':datum.value==240?'120°W':datum.value==270?'90°W':''","tickSize":{"condition":{"test":"datum.value%30==0","value":7},"value":3.5}}},"y":{"field":"y","type":"quantitative","scale":{"domain":[0,17],"nice":false,"zero":false},"axis":{"title":null,"tickCount":40,"values":[0,1,2,3,4,5,6,7,8,9,10,11,12,13,14,15,16,17],"labelOverlap":false,"labelPadding":8,"labelExpr":"datum.value==0?'Oct -1':datum.value==3?'Jan 0':datum.value==6?'Apr 0':datum.value==9?'July 0':datum.value==12?'Oct 0':datum.value==15?'Jan 1':''","tickSize":{"condition":{"test":"datum.value%3==0","value":7},"value":3.5}}},"fill":{"field":"c","type":"nominal","legend":null,"scale":{"domain":["-1.75","-1.5","-1.25","-1","-0.75","-0.5","-0.25","0.25","0.5","0.75","1","1.5","2","2.25","2.5","3","3.5"],"range":["#30389a","#3b60a9","#5085be","#6fa9cf","#92c5de","#b5dded","#ffffff","#ffffbf","#feeda0","#fed882","#fdbc6f","#fd9a57","#fb7c4c","#ee5a3b","#e03a2e","#c91e27","#a8002c"]}},"detail":{"field":"k"},"order":{"field":"i","type":"quantitative"}}},
{"data":{"name":"stip"},"transform":[{"flatten":["x"]},{"filter":"!(datum.x>245&&datum.y>5&&datum.y<6.5)"}],"mark":{"type":"point","filled":true,"size":2.5,"color":"#111","opacity":1},"encoding":{"x":{"field":"x","type":"quantitative"},"y":{"field":"y","type":"quantitative"}}},
{"data":{"values":[{"l":"g","x":110,"y":18.2}]},"mark":{"type":"text","fontSize":14,"fontWeight":"bold","color":"#000"},"encoding":{"x":{"field":"x","type":"quantitative"},"y":{"field":"y","type":"quantitative"},"text":{"field":"l"}}},
{"data":{"values":[{"l":"EP 1875-2017","x":202,"y":17.76}]},"mark":{"type":"text","fontSize":11,"color":"#000"},"encoding":{"x":{"field":"x","type":"quantitative"},"y":{"field":"y","type":"quantitative"},"text":{"field":"l"}}}
]},
{"width":56.8,"height":170,"view":{"stroke":null},"layer":[
{"data":{"name":"cbar"},"mark":{"type":"rect","stroke":"#333","strokeWidth":0.7},"encoding":{"x":{"datum":0,"type":"quantitative","scale":{"domain":[-2.324,1.017],"nice":false,"zero":false},"axis":null},"x2":{"datum":1},"y":{"field":"u","type":"quantitative","scale":{"domain":[1.7,16.15],"nice":false,"zero":false},"axis":{"title":null,"orient":"right","tickCount":40,"values":[2,4,6,8,10,12,14,16],"tickSize":0,"labelOverlap":false,"labelAlign":"center","labelPadding":18,"labelExpr":"datum.value==2?'-1.25':datum.value==4?'-0.75':datum.value==6?'-0.25':datum.value==8?'0.5':datum.value==10?'1':datum.value==12?'2':datum.value==14?'2.5':'3.5'"}},"y2":{"field":"v"},"fill":{"field":"c","type":"nominal","legend":null,"scale":{"domain":["-1.75","-1.5","-1.25","-1","-0.75","-0.5","-0.25","0.25","0.5","0.75","1","1.5","2","2.25","2.5","3","3.5"],"range":["#30389a","#3b60a9","#5085be","#6fa9cf","#92c5de","#b5dded","#ffffff","#ffffbf","#feeda0","#fed882","#fdbc6f","#fd9a57","#fb7c4c","#ee5a3b","#e03a2e","#c91e27","#a8002c"]}}}},
{"data":{"values":[{"l":"SSTA(°C)","x":1,"y":-1.25}]},"mark":{"type":"text","fontSize":11,"color":"#000"},"encoding":{"x":{"field":"x","type":"quantitative"},"y":{"field":"y","type":"quantitative"},"text":{"field":"l"}}}
]},
{"width":170,"height":170,"view":{"stroke":null},"data":{"values":[{"e":0}]},"mark":{"type":"point","opacity":0},"encoding":{}},
{"width":71.7,"height":170,"view":{"stroke":null},"data":{"values":[{"e":0}]},"mark":{"type":"point","opacity":0},"encoding":{}},
{"width":170,"height":170,"layer":[
{"data":{"name":"bars"},"transform":[{"filter":"datum.p=='h'"}],"mark":{"type":"bar"},"encoding":{"x":{"field":"t","type":"nominal","sort":null,"scale":{"domain":["ZA","2","3","EK","TH","6"],"paddingInner":0.6,"paddingOuter":0.3},"axis":{"title":"heat budget terms","labelAngle":0,"labelOverlap":false,"labelPadding":8,"tickSize":7,"titlePadding":3}},"xOffset":{"field":"s","type":"nominal","scale":{"domain":["a","b"],"paddingInner":0,"paddingOuter":0}},"y":{"field":"v","type":"quantitative","scale":{"domain":[-0.1,0.18],"nice":false,"zero":false},"axis":{"title":"ocean heat budget (°C month⁻¹)","tickCount":40,"titlePadding":8,"labelOverlap":false,"labelPadding":7,"values":[-0.1,-0.09,-0.08,-0.07,-0.06,-0.05,-0.04,-0.03,-0.02,-0.01,0,0.01,0.02,0.03,0.04,0.05,0.06,0.07,0.08,0.09,0.1,0.11,0.12,0.13,0.14,0.15,0.16,0.17,0.18],"labelExpr":"abs(datum.value*20-round(datum.value*20))<0.001?format(datum.value,'.2f'):''","tickSize":{"condition":{"test":"abs(datum.value*20-round(datum.value*20))<0.001","value":7},"value":3.5}}},"fill":{"field":"n","type":"nominal","scale":{"domain":["1875-2017"],"range":["#2272b8"]},"legend":{"title":null,"orient":"none","legendX":9,"legendY":3,"direction":"horizontal","symbolType":"M-1,-0.36H1V0.36H-1Z","symbolSize":196,"symbolStrokeWidth":0,"labelOffset":4,"columnPadding":4}}}},
{"data":{"values":[{"z":0}]},"mark":{"type":"rule","color":"#444","strokeWidth":1},"encoding":{"y":{"field":"z","type":"quantitative"}}},
{"data":{"values":[{"l":"h","x":"ZA","y":0.196}]},"mark":{"type":"text","fontSize":14,"fontWeight":"bold","color":"#000","xOffset":-31},"encoding":{"x":{"field":"x","type":"nominal"},"y":{"field":"y","type":"quantitative"},"text":{"field":"l"}}},
{"data":{"values":[{"l":"EP","x":"3","y":0.192}]},"mark":{"type":"text","fontSize":11,"color":"#000","xOffset":13},"encoding":{"x":{"field":"x","type":"nominal"},"y":{"field":"y","type":"quantitative"},"text":{"field":"l"}}}
]}
]}
